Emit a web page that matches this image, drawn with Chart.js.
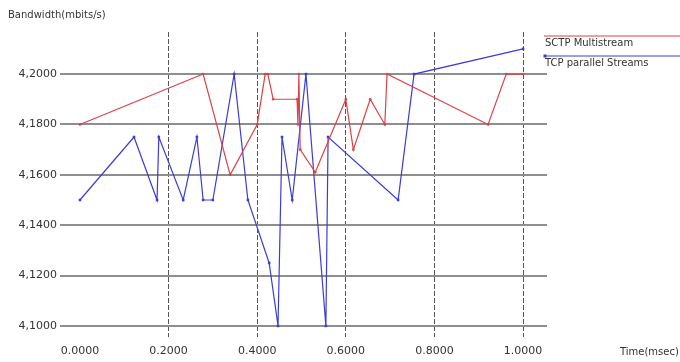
<!DOCTYPE html>
<html>
<head>
<meta charset="utf-8">
<script src="https://cdn.jsdelivr.net/npm/chart.js@4/dist/chart.umd.min.js"></script>
<style>
  html, body { margin: 0; padding: 0; background: #fff; }
  #wrap { width: 680px; height: 362px; position: relative; }
</style>
</head>
<body>
<div id="wrap"><canvas id="c" width="680" height="362"></canvas></div>
<script>
// ---- data ----
const sctpTime = [0.000, 0.278, 0.339, 0.400, 0.418, 0.424, 0.436, 0.490, 0.492, 0.494, 0.497, 0.531, 0.600, 0.617, 0.655, 0.688, 0.693, 0.921, 0.962, 1.000];
const sctpBw   = [4.180, 4.200, 4.160, 4.180, 4.200, 4.200, 4.190, 4.190, 4.180, 4.200, 4.170, 4.161, 4.190, 4.170, 4.190, 4.180, 4.200, 4.180, 4.200, 4.200];

const tcpTime = [0.000, 0.122, 0.174, 0.178, 0.233, 0.264, 0.278, 0.300, 0.348, 0.379, 0.427, 0.447, 0.456, 0.479, 0.510, 0.555, 0.560, 0.718, 0.754, 1.000];
const tcpBw   = [4.150, 4.175, 4.150, 4.175, 4.150, 4.175, 4.150, 4.150, 4.200, 4.150, 4.125, 4.100, 4.175, 4.150, 4.200, 4.100, 4.175, 4.150, 4.200, 4.210];

const xTickValues = [0.0, 0.2, 0.4, 0.6, 0.8, 1.0];
const xTickLabels = ['0.0000', '0.2000', '0.4000', '0.6000', '0.8000', '1.0000'];
const yTickValues = [4.10, 4.12, 4.14, 4.16, 4.18, 4.20];
const yTickLabels = ['4,1000', '4,1200', '4,1400', '4,1600', '4,1800', '4,2000'];

const seriesNames = ['SCTP Multistream', 'TCP parallel Streams'];
const yTitle = 'Bandwidth(mbits/s)';
const xTitle = 'Time(msec)';

const RED = '#dc4244';
const BLUE = '#3c3cd6';
const FONT = '"DejaVu Sans", sans-serif';

function pts(xs, ys) { return xs.map((x, i) => ({ x: x, y: ys[i] })); }

const extras = {
  id: 'extras',
  afterDraw(chart) {
    const ctx = chart.ctx;
    ctx.save();
    ctx.fillStyle = '#333';
    ctx.font = '10px ' + FONT;
    ctx.textBaseline = 'middle';
    ctx.textAlign = 'left';
    ctx.fillText(yTitle, 8, 15);
    ctx.fillText(xTitle, 620, 352);
    // legend
    const ds = chart.data.datasets;
    const rows = [36, 56];
    ds.forEach((d, i) => {
      const y = rows[i];
      ctx.strokeStyle = d.borderColor;
      ctx.lineWidth = 1.2;
      ctx.beginPath();
      ctx.moveTo(544, y);
      ctx.lineTo(680, y);
      ctx.stroke();
      if (i === 1) {
        ctx.fillStyle = d.borderColor;
        ctx.fillRect(543.5, y - 1.5, 3, 3);
      }
      ctx.fillStyle = '#333';
      ctx.fillText(d.label, 545, y + 7);
    });
    ctx.restore();
  }
};

new Chart(document.getElementById('c'), {
  type: 'line',
  data: {
    datasets: [
      {
        label: seriesNames[0],
        data: pts(sctpTime, sctpBw),
        borderColor: RED,
        backgroundColor: RED,
        borderWidth: 1.2,
        pointRadius: 1.3,
        pointBorderWidth: 0,
        tension: 0,
        fill: false
      },
      {
        label: seriesNames[1],
        data: pts(tcpTime, tcpBw),
        borderColor: BLUE,
        backgroundColor: BLUE,
        borderWidth: 1.2,
        pointStyle: 'rect',
        pointRadius: 1.8,
        pointBorderWidth: 0,
        tension: 0,
        fill: false
      }
    ]
  },
  options: {
    responsive: false,
    animation: false,
    devicePixelRatio: 1,
    layout: { padding: { left: 0, right: 133, top: 32, bottom: 0 } },
    plugins: { legend: { display: false }, tooltip: { enabled: false } },
    scales: {
      x: {
        type: 'linear',
        min: -0.045,
        max: 1.054,
        afterBuildTicks(scale) { scale.ticks = xTickValues.map(v => ({ value: v })); },
        afterFit(scale) { scale.height = 25; },
        ticks: {
          autoSkip: false,
          maxRotation: 0,
          padding: 8,
          color: '#333',
          font: { family: FONT, size: 11 },
          callback(value) {
            const i = xTickValues.findIndex(v => Math.abs(v - value) < 1e-9);
            return i >= 0 ? xTickLabels[i] : '';
          }
        },
        grid: {
          drawTicks: false,
          lineWidth: 1,
          color(ctx) { return (ctx.tick && Math.abs(ctx.tick.value) < 1e-9) ? 'rgba(0,0,0,0)' : '#555'; }
        },
        border: { display: false, dash: [5, 2] }
      },
      y: {
        type: 'linear',
        min: 4.0956,
        max: 4.2167,
        afterBuildTicks(scale) { scale.ticks = yTickValues.map(v => ({ value: v })); },
        afterFit(scale) { scale.width = 60; },
        ticks: {
          autoSkip: false,
          padding: 3,
          color: '#333',
          font: { family: FONT, size: 11 },
          callback(value) {
            const i = yTickValues.findIndex(v => Math.abs(v - value) < 1e-9);
            return i >= 0 ? yTickLabels[i] : '';
          }
        },
        grid: { drawTicks: false, lineWidth: 2, color: '#8e8e8e' },
        border: { display: false }
      }
    }
  },
  plugins: [extras]
});
</script>
</body>
</html>
